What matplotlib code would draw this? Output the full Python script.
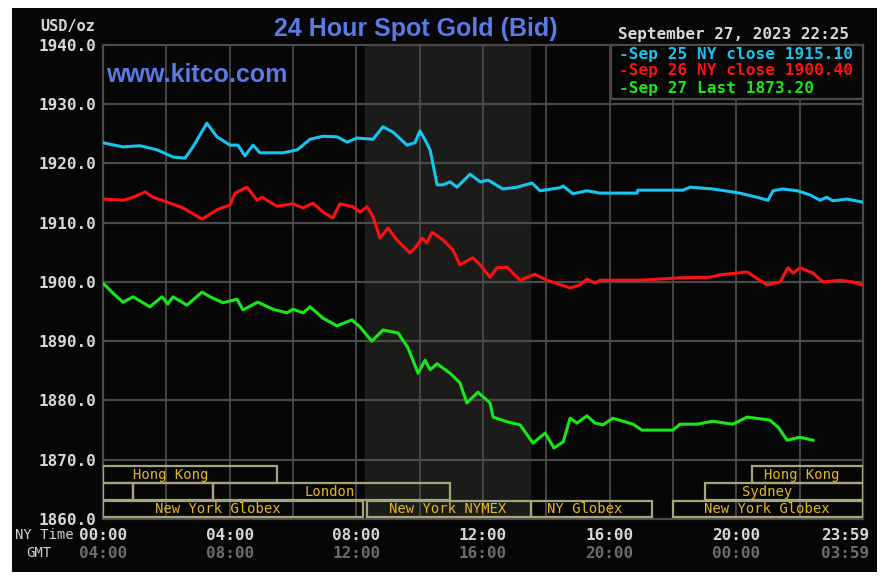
import matplotlib
matplotlib.use("Agg")
import matplotlib.pyplot as plt
from matplotlib.patches import Rectangle
from matplotlib.transforms import blended_transform_factory

# hours since NY midnight, bid price in USD/oz
sep25_hours = [0.00, 0.63, 1.17, 1.71, 2.21, 2.59, 2.84, 3.28, 3.60, 4.01, 4.26, 4.48, 4.74, 4.96,
               5.68, 6.13, 6.54, 6.95, 7.39, 7.71, 8.02, 8.53, 8.84, 9.16, 9.60, 9.85, 10.01, 10.17,
               10.33, 10.55, 10.74, 10.96, 11.18, 11.59, 11.91, 12.16, 12.63, 13.07, 13.55, 13.80,
               14.43, 14.53, 14.84, 15.28, 15.69, 16.86, 16.89, 18.31, 18.54, 19.26, 20.11, 20.65,
               21.00, 21.16, 21.47, 21.92, 22.33, 22.64, 22.86, 23.05, 23.49, 23.97]
sep25_price = [1923.5, 1922.8, 1923.0, 1922.3, 1921.1, 1920.9, 1922.8, 1926.8, 1924.5, 1923.1, 1923.1,
               1921.3, 1923.1, 1921.8, 1921.8, 1922.3, 1924.1, 1924.6, 1924.5, 1923.6, 1924.3, 1924.1,
               1926.2, 1925.3, 1923.1, 1923.5, 1925.5, 1924.0, 1922.3, 1916.4, 1916.4, 1916.9, 1916.0,
               1918.2, 1916.9, 1917.2, 1915.7, 1916.0, 1916.7, 1915.4, 1915.9, 1916.2, 1914.9, 1915.4,
               1915.0, 1915.0, 1915.5, 1915.5, 1916.0, 1915.7, 1915.0, 1914.3, 1913.8, 1915.4, 1915.7,
               1915.4, 1914.7, 1913.8, 1914.3, 1913.7, 1914.0, 1913.5]

sep26_hours = [0.00, 0.63, 0.95, 1.33, 1.58, 2.02, 2.53, 3.13, 3.60, 4.01, 4.17, 4.55, 4.86, 5.02,
               5.49, 6.00, 6.32, 6.63, 6.95, 7.26, 7.48, 7.89, 8.12, 8.34, 8.53, 8.75, 9.00, 9.28,
               9.69, 9.85, 10.07, 10.23, 10.39, 10.74, 11.05, 11.27, 11.68, 11.91, 12.22, 12.44,
               12.76, 13.17, 13.64, 14.02, 14.75, 15.06, 15.28, 15.54, 15.69, 16.96, 18.22, 19.17,
               19.48, 20.34, 20.97, 21.38, 21.63, 21.79, 22.01, 22.42, 22.74, 23.27, 23.68, 23.97]
sep26_price = [1914.0, 1913.8, 1914.3, 1915.2, 1914.3, 1913.5, 1912.5, 1910.6, 1912.2, 1913.0, 1915.0,
               1916.0, 1913.8, 1914.3, 1912.8, 1913.2, 1912.5, 1913.3, 1911.8, 1910.8, 1913.2, 1912.7,
               1911.8, 1912.7, 1911.0, 1907.4, 1909.1, 1907.1, 1904.9, 1905.7, 1907.4, 1906.6, 1908.4,
               1907.1, 1905.4, 1902.9, 1904.1, 1902.9, 1900.8, 1902.4, 1902.5, 1900.3, 1901.3, 1900.3,
               1899.0, 1899.5, 1900.5, 1899.8, 1900.3, 1900.3, 1900.7, 1900.8, 1901.2, 1901.7, 1899.5,
               1900.0, 1902.4, 1901.5, 1902.4, 1901.5, 1900.0, 1900.3, 1900.0, 1899.5]

sep27_hours = [0.00, 0.32, 0.63, 0.95, 1.48, 1.86, 2.05, 2.21, 2.65, 3.13, 3.38, 3.79, 4.23, 4.42,
               4.89, 5.37, 5.81, 6.00, 6.32, 6.54, 6.95, 7.39, 7.86, 8.12, 8.49, 8.84, 9.32, 9.63,
               9.95, 10.17, 10.33, 10.55, 10.96, 11.27, 11.49, 11.84, 12.22, 12.32, 12.76, 13.17,
               13.58, 13.96, 14.24, 14.53, 14.75, 14.97, 15.28, 15.54, 15.79, 16.10, 16.74, 17.02,
               18.00, 18.22, 18.76, 19.26, 19.89, 20.34, 21.06, 21.32, 21.60, 22.01, 22.42]
sep27_price = [1899.8, 1898.1, 1896.6, 1897.5, 1895.8, 1897.5, 1896.3, 1897.5, 1896.1, 1898.3, 1897.5,
               1896.5, 1897.1, 1895.3, 1896.6, 1895.4, 1894.8, 1895.4, 1894.8, 1895.8, 1893.9, 1892.6,
               1893.6, 1892.4, 1890.0, 1891.9, 1891.4, 1888.9, 1884.6, 1886.8, 1885.2, 1886.2, 1884.6,
               1883.0, 1879.6, 1881.4, 1879.6, 1877.2, 1876.4, 1875.9, 1872.8, 1874.5, 1872.0,
               1873.0, 1877.0, 1876.2, 1877.4, 1876.2, 1875.9, 1877.0, 1876.0, 1875.0, 1875.0, 1876.0,
               1876.0, 1876.5, 1876.0, 1877.2, 1876.7, 1875.5, 1873.3, 1873.8, 1873.3]

legend_labels = ["Sep 25 NY close 1915.10", "Sep 26 NY close 1900.40", "Sep 27 Last 1873.20"]
y_ticks = [1860, 1870, 1880, 1890, 1900, 1910, 1920, 1930, 1940]
ny_labels = ["00:00", "04:00", "08:00", "12:00", "16:00", "20:00", "23:59"]
gmt_labels = ["04:00", "08:00", "12:00", "16:00", "20:00", "00:00", "03:59"]

# market sessions: name, row (0 = top), start hour, end hour
session_names = ["Hong Kong", "", "", "London", "New York Globex", "New York NYMEX", "NY Globex",
                 "Hong Kong", "Sydney", "New York Globex"]
session_rows = [0, 1, 1, 1, 2, 2, 2, 0, 1, 2]
session_start = [0.0, 0.0, 0.95, 3.47, 0.0, 8.33, 13.5, 20.5, 19.0, 18.0]
session_end = [5.5, 0.95, 3.47, 10.96, 8.2, 13.5, 17.33, 24.0, 24.0, 24.0]
label_hour = [2.15, 0, 0, 7.17, 3.64, 10.87, 15.2, 22.05, 20.97, 20.96]
nymex_open, nymex_close = 8.27, 13.48

mono = "DejaVu Sans Mono"
grid_c = "#4a4a4a"
box_c = "#a8a47a"
gold_c = "#e6b820"

fig = plt.figure(figsize=(8.9, 5.85), dpi=100, facecolor="white")
fig.patches.append(Rectangle((12 / 890, 13 / 585), 865 / 890, 564 / 585,
                             transform=fig.transFigure, facecolor="#060606",
                             edgecolor="none", zorder=-5))
ax = fig.add_axes([103 / 890, 66 / 585, 760 / 890, 474 / 585])
ax.set_facecolor("#060606")
ax.set_xlim(0, 24)
ax.set_ylim(1860, 1940)

ax.axvspan(nymex_open, nymex_close, color="#1b1c1a", zorder=0)
for h in range(2, 24, 2):
    ax.axvline(h, color=grid_c, lw=1.3, zorder=1)
for v in y_ticks[1:-1]:
    ax.axhline(v, color=grid_c, lw=1.6, zorder=1)
for s in ax.spines.values():
    s.set_color(grid_c)
    s.set_linewidth(1.6)

ax.plot(sep25_hours, sep25_price, color="#18c4f0", lw=2.2, zorder=4)
ax.plot(sep26_hours, sep26_price, color="#ff1010", lw=2.2, zorder=4)
ax.plot(sep27_hours, sep27_price, color="#18e818", lw=2.2, zorder=4)

# session boxes at the bottom
row_top = [1868.9, 1866.0, 1863.1]
row_h = 2.75
for name, r, a, b, lh in zip(session_names, session_rows, session_start, session_end, label_hour):
    y0 = row_top[r] - row_h
    ax.add_patch(Rectangle((a, y0), b - a, row_h, facecolor="none",
                           edgecolor=box_c, lw=1.6, zorder=3))
    if name:
        ax.text(lh, y0 + row_h / 2 - 0.1, name, color=gold_c, fontsize=10,
                family=mono, ha="center", va="center", zorder=5)

ax.set_xticks([])
ax.set_yticks(y_ticks)
ax.set_yticklabels(["%.1f" % v for v in y_ticks], family=mono, weight="bold",
                   fontsize=11.5, color="#d8d8d8")
ax.tick_params(axis="y", length=0, pad=5)

tr = blended_transform_factory(ax.transData, fig.transFigure)
for i, (a, b) in enumerate(zip(ny_labels, gmt_labels)):
    x = i * 4
    ha = "center"
    if i == len(ny_labels) - 1:
        x, ha = 24.2, "right"
    ax.text(x, 1 - 535 / 585, a, transform=tr, ha=ha, va="center",
            family=mono, weight="bold", fontsize=11.5, color="#d8d8d8")
    ax.text(x, 1 - 553 / 585, b, transform=tr, ha=ha, va="center",
            family=mono, weight="bold", fontsize=11.5, color="#6c6c6c")
fig.text(44 / 890, 1 - 535 / 585, "NY Time", ha="center", va="center",
         family=mono, fontsize=10, color="#d0d0d0")
fig.text(39 / 890, 1 - 553 / 585, "GMT", ha="center", va="center",
         family=mono, fontsize=10, color="#d0d0d0")

fig.text(68 / 890, 1 - 27 / 585, "USD/oz", ha="center", va="center",
         family=mono, weight="bold", fontsize=11, color="#d8d8d8")
fig.text(416 / 890, 1 - 29 / 585, "24 Hour Spot Gold (Bid)", ha="center", va="center",
         family="Liberation Sans", weight="bold", fontsize=18, color="#5a7be6")
fig.text(197 / 890, 1 - 75 / 585, "www.kitco.com", ha="center", va="center",
         family="Liberation Sans", weight="bold", fontsize=18, color="#5a7be6")
fig.text(733 / 890, 1 - 35 / 585, "September 27, 2023 22:25", ha="center", va="center",
         family=mono, weight="bold", fontsize=11.5, color="#d8d8d8")

# legend box
fig.patches.append(Rectangle((611 / 890, 1 - 99 / 585), 252 / 890, 54 / 585,
                             transform=fig.transFigure, facecolor="#060606",
                             edgecolor=grid_c, lw=1.6, zorder=5))
for lab, c, yy in zip(legend_labels, ["#18c4f0", "#ff1010", "#18e818"], [54, 71, 88]):
    fig.text(619 / 890, 1 - yy / 585, "-" + lab, ha="left", va="center",
             family=mono, weight="bold", fontsize=11.6, color=c, zorder=6)

fig.savefig("out.png", dpi=100, facecolor="white")
